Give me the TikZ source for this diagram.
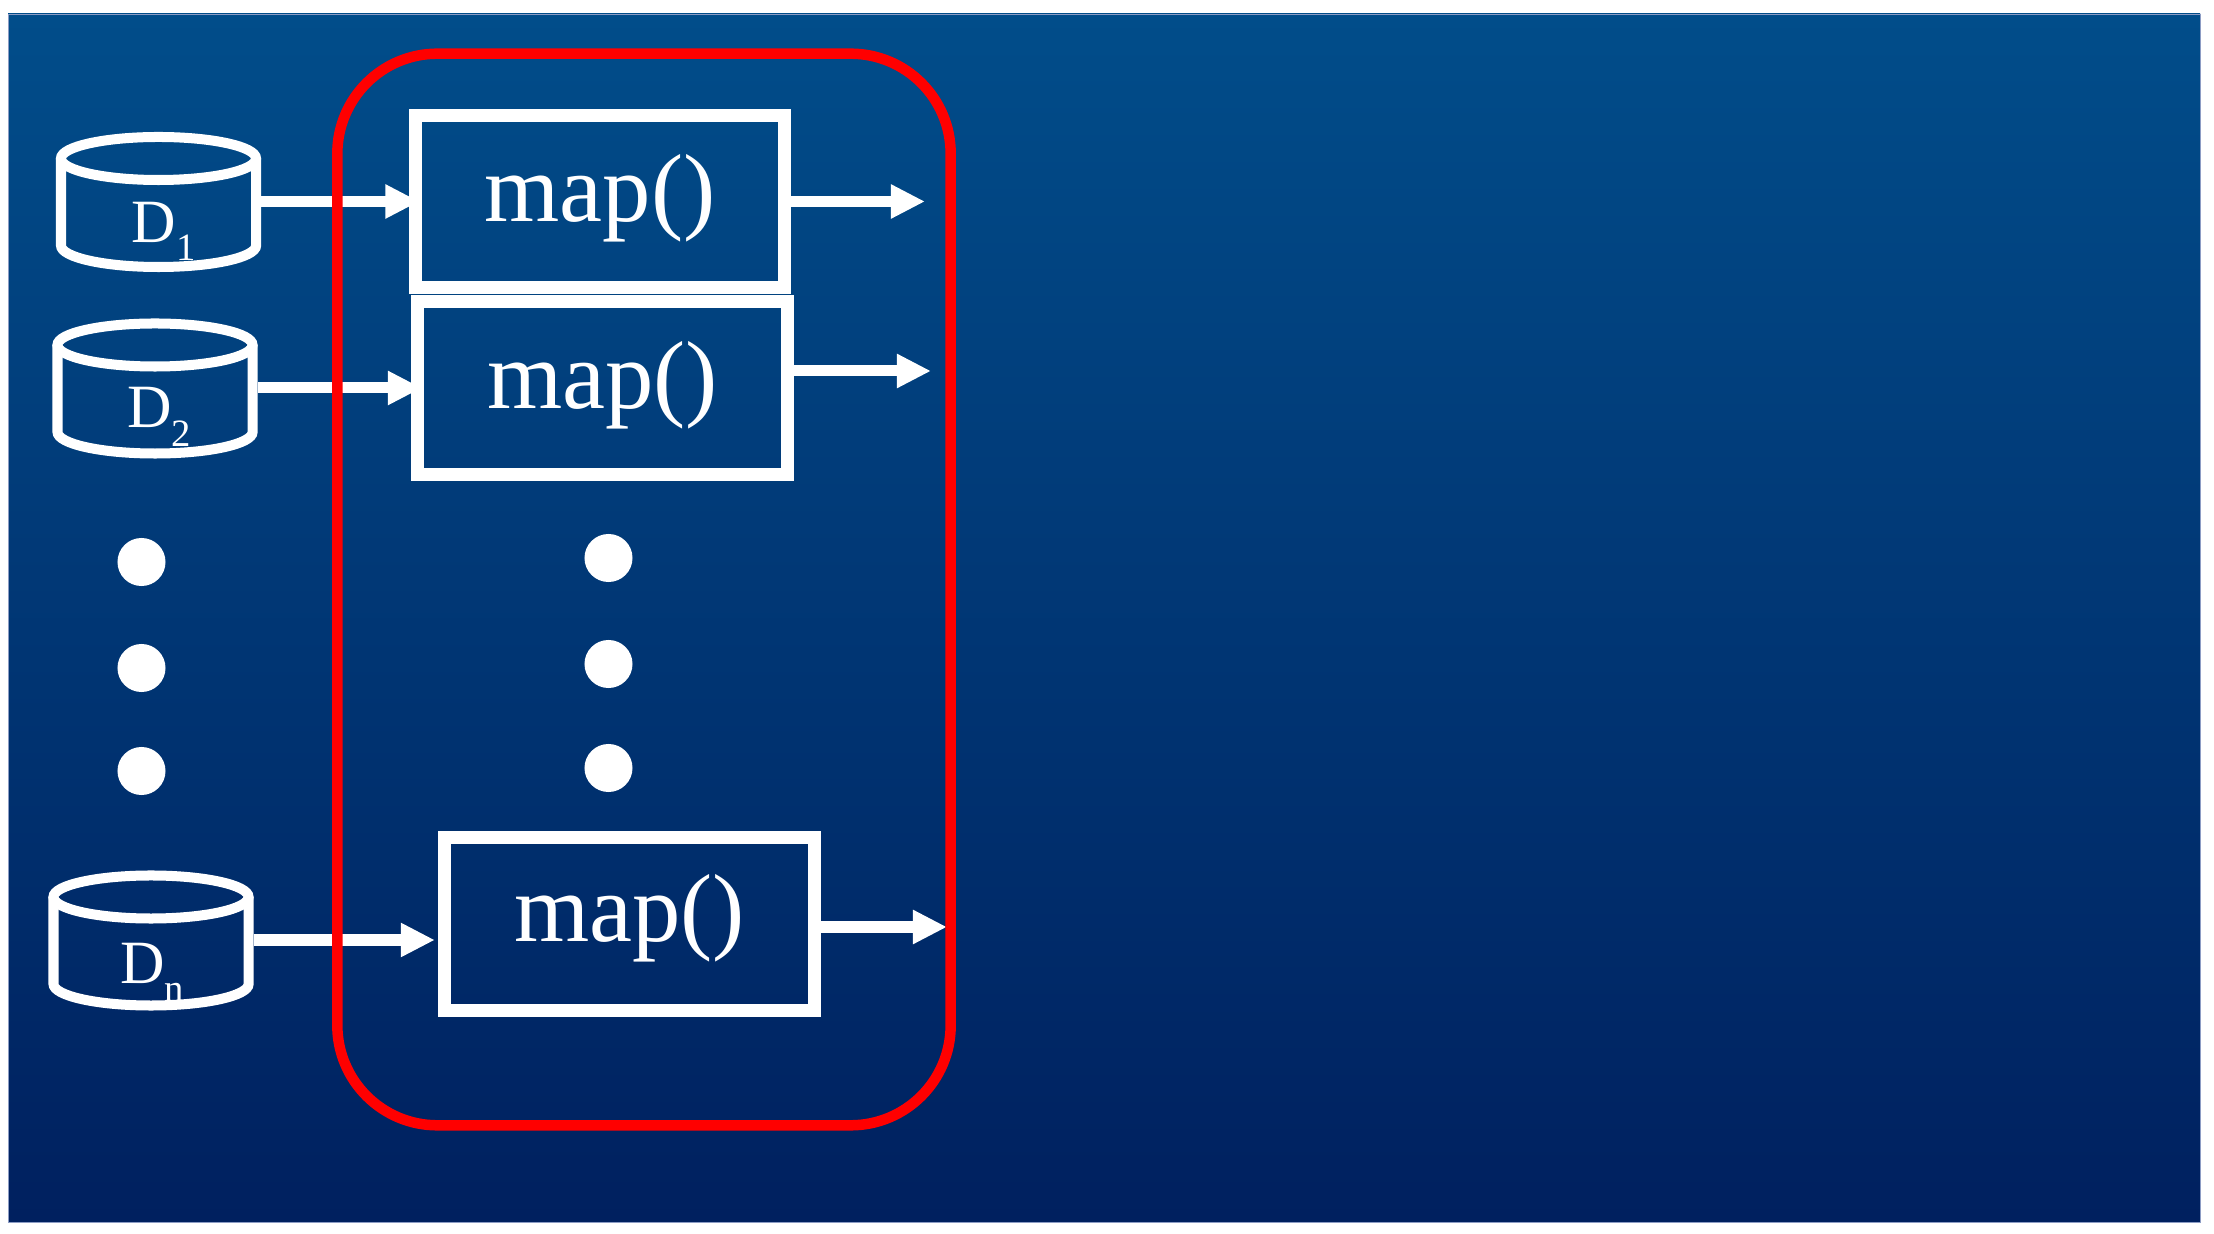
\documentclass[tikz,border=0pt]{standalone}
\usepackage{fontspec}
\setmainfont{Liberation Serif}
\usetikzlibrary{arrows.meta,calc}
\definecolor{bgtop}{HTML}{014D8A}
\definecolor{bgbot}{HTML}{00205F}
\definecolor{bgedge}{HTML}{8C9CC4}
\newcommand{\dblab}[2]{% D with a lowered index, as one piece of text
  D\raisebox{-5.2pt}{\fontsize{11}{12}\selectfont #2}}
\newcommand{\dbcyl}[2]{% cylinder centered at (#2), node #1 holds its outline
  \node[dbbox] (#1) at (#2) {};
  \draw[dbline] ($(#1)+(0,-43)$) ellipse [x radius=0.975cm, y radius=0.215cm];
  \draw[dbline] ($(#1)+(-97.5,-43)$) -- ($(#1)+(-97.5,44)$)
    arc [start angle=180, end angle=360, x radius=0.975cm, y radius=0.215cm]
    -- ($(#1)+(97.5,-43)$);
}
\tikzset{
  dbbox/.style={rectangle, minimum width=2.05cm, minimum height=1.4cm, inner sep=0pt, outer sep=0pt},
  dbline/.style={draw=white, line width=0.1cm},
  dblabel/.style={text=white, inner sep=0pt, font=\fontsize{17.5}{20}\selectfont},
  mapbox/.style={rectangle, draw=white, line width=0.13cm, text=white,
    minimum width=3.69cm, minimum height=1.72cm, inner sep=0pt,
    text height=19pt, text depth=7.4pt, font=\fontsize{27.5}{30}\selectfont},
  dotnode/.style={circle, fill=white, minimum size=0.48cm, inner sep=0pt},
  flow/.style={draw=white, line width=0.11cm, -{Triangle[length=9.7pt,width=9.1pt]}},
  groupbox/.style={rectangle, draw=red, line width=0.105cm, rounded corners=1cm,
    minimum width=6.13cm, minimum height=10.71cm, inner sep=0pt}
}

\begin{document}
\begin{tikzpicture}[x=0.01cm,y=-0.01cm]
  \useasboundingbox (0,0) rectangle (2214,1234);
  \fill[white] (0,0) rectangle (2214,1234);
  % background panel
  \shade[top color=bgtop, bottom color=bgbot] (8,14) rectangle (2200,1222);
  \draw[bgedge, line width=0.008cm] (8,14) rectangle (2200,1222);

  % data sources
  \dbcyl{d1}{158.5,201.5}
  \node[dblabel] (l1) at ($(d1)+(5,30)$) {\dblab{D}{1}};
  \dbcyl{d2}{155,388}
  \node[dblabel] (l2) at ($(d2)+(4,29)$) {\dblab{D}{2}};
  \dbcyl{dn}{151,940}
  \node[dblabel] (ln) at ($(dn)+(1,32)$) {\dblab{D}{n}};

  % map boxes
  \node[mapbox] (m1) at (600,201.5) {map()};
  \node[mapbox] (m2) at (602.5,388) {map()};
  \node[mapbox, text depth=8.9pt] (m3) at (629.5,924) {map()};

  % dots
  \node[dotnode] (a1) at (141.5,562) {};
  \node[dotnode] (a2) at (141.5,668) {};
  \node[dotnode] (a3) at (141.5,771) {};
  \node[dotnode] (b1) at (608.5,558) {};
  \node[dotnode] (b2) at (608.5,664) {};
  \node[dotnode] (b3) at (608.5,768) {};

  % arrows in
  \draw[flow, shorten >=-3pt] (d1) -- (m1);
  \draw[flow, shorten >=-3pt] (d2) -- (m2);
  \draw[flow, shorten >=1pt] (dn) -- (dn -| m3.west);

  % arrows out
  \coordinate (o1) at (925,201.5);
  \coordinate (o2) at (931,371);
  \coordinate (o3) at (947,927);
  \draw[flow] (m1.east) -- (o1);
  \draw[flow] (m2.east |- o2) -- (o2);
  \draw[flow] (m3.east |- o3) -- (o3);

  % red group on top of the arrows
  \node[groupbox] (group) at (644,589.5) {};
\end{tikzpicture}
\end{document}
